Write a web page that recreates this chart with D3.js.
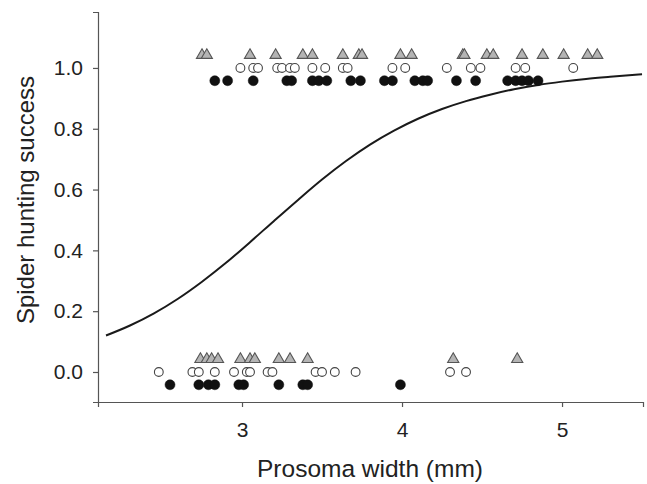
<!DOCTYPE html>
<html><head><meta charset="utf-8">
<script src="https://cdn.jsdelivr.net/npm/d3@7"></script>
<style>body{margin:0;background:#fff}svg{display:block}</style>
</head><body><div id="chart"></div>
<script>
// Prosoma width (mm) of spiders, by outcome (1 = success, 0 = failure)
const triSuccess = [2.75, 2.78, 3.05, 3.21, 3.38, 3.44, 3.63, 3.73, 3.75, 3.99, 4.06, 4.38, 4.39, 4.53, 4.57, 4.75, 4.88, 5.01, 5.16, 5.22];
const triFailure = [2.74, 2.78, 2.81, 2.85, 2.99, 3.05, 3.08, 3.23, 3.30, 3.41, 4.32, 4.72];
const openSuccess = [2.99, 3.07, 3.10, 3.22, 3.25, 3.30, 3.33, 3.44, 3.52, 3.63, 3.66, 3.94, 4.02, 4.28, 4.43, 4.49, 4.71, 4.77, 5.07];
const openFailure = [2.48, 2.69, 2.73, 2.83, 2.95, 3.03, 3.05, 3.16, 3.19, 3.46, 3.50, 3.58, 3.71, 4.30, 4.40];
const filledSuccess = [2.83, 2.91, 3.07, 3.28, 3.31, 3.44, 3.48, 3.53, 3.68, 3.74, 3.89, 3.94, 4.08, 4.13, 4.16, 4.34, 4.46, 4.66, 4.71, 4.75, 4.79, 4.85];
const filledFailure = [2.55, 2.73, 2.79, 2.83, 2.98, 3.01, 3.23, 3.38, 3.41, 3.99];
// fitted logistic curve
const curveX = [2.15, 2.3, 2.45, 2.6, 2.75, 2.9, 3.05, 3.2, 3.35, 3.5, 3.65, 3.8, 3.95, 4.1, 4.25, 4.4, 4.55, 4.7, 4.85, 5.0, 5.15, 5.3, 5.5];
const curveY = [0.120, 0.153, 0.193, 0.241, 0.297, 0.359, 0.427, 0.497, 0.566, 0.633, 0.694, 0.748, 0.794, 0.833, 0.865, 0.891, 0.912, 0.930, 0.944, 0.955, 0.964, 0.971, 0.979];
const xTicks = [3, 4, 5];
const yTicks = [0.0, 0.2, 0.4, 0.6, 0.8, 1.0];

const W = 647, H = 484;
const svg = d3.select("#chart").append("svg").attr("width", W).attr("height", H);
const x = d3.scaleLinear().domain([2.1, 5.506]).range([98, 643]);
const y = d3.scaleLinear().domain([-0.0987, 1.184]).range([402, 12]);
const font = "'Liberation Sans', Arial, sans-serif";

// axes
const xAxis = svg.append("g").attr("transform", "translate(0,402)")
  .call(d3.axisBottom(x).tickValues(xTicks).tickFormat(d3.format("d")).tickSizeOuter(0).tickSize(5).tickPadding(15));
const yAxis = svg.append("g").attr("transform", "translate(98,0)")
  .call(d3.axisLeft(y).tickValues(yTicks).tickFormat(d3.format(".1f")).tickSizeOuter(0).tickSize(5).tickPadding(10));
[xAxis, yAxis].forEach(g => {
  g.select(".domain").attr("stroke", "#555").attr("stroke-width", 1.2);
  g.selectAll(".tick line").attr("stroke", "#555").attr("stroke-width", 1.2);
  g.selectAll(".tick text").attr("fill", "#222").style("font-family", font).style("font-size", "21px");
});

// curve
const line = d3.line().x(d => x(d[0])).y(d => y(d[1])).curve(d3.curveMonotoneX);
svg.append("path").datum(curveX.map((v, i) => [v, curveY[i]]))
  .attr("d", line).attr("fill", "none").attr("stroke", "#1a1a1a").attr("stroke-width", 2);

// points
const off = 0.042;
const tri = d3.symbol().type(d3.symbolTriangle).size(54);
function triangles(arr, outcome) {
  svg.append("g").selectAll("path").data(arr).join("path")
    .attr("d", tri).attr("transform", d => `translate(${x(d)},${y(outcome + off)})`)
    .attr("fill", "#b4b4b4").attr("stroke", "#555").attr("stroke-width", 1.1);
}
function opens(arr, outcome) {
  svg.append("g").selectAll("circle").data(arr).join("circle")
    .attr("cx", d => x(d)).attr("cy", y(outcome)).attr("r", 4.4)
    .attr("fill", "#fff").attr("stroke", "#444").attr("stroke-width", 1.1);
}
function filled(arr, outcome) {
  svg.append("g").selectAll("circle").data(arr).join("circle")
    .attr("cx", d => x(d)).attr("cy", y(outcome - off)).attr("r", 5)
    .attr("fill", "#111").attr("stroke", "#111").attr("stroke-width", 0.5);
}
triangles(triSuccess, 1); triangles(triFailure, 0);
opens(openSuccess, 1); opens(openFailure, 0);
filled(filledSuccess, 1); filled(filledFailure, 0);

// labels
svg.append("text").attr("x", 370).attr("y", 477).attr("text-anchor", "middle")
  .attr("fill", "#222").style("font-family", font).style("font-size", "24.5px").text("Prosoma width (mm)");
svg.append("text").attr("transform", `translate(34,200) rotate(-90)`).attr("text-anchor", "middle")
  .attr("fill", "#222").style("font-family", font).style("font-size", "24px").text("Spider hunting success");
</script></body></html>
